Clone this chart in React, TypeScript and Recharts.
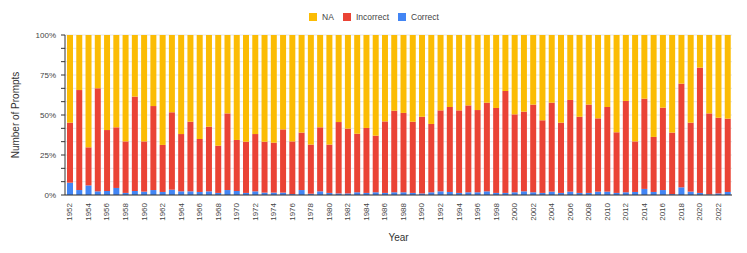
import { BarChart, Bar, XAxis, YAxis, CartesianGrid, Legend } from 'recharts'

const YEARS = [
  '1952', '1953', '1954', '1955', '1956', '1957', '1958', '1959', '1960', '1961',
  '1962', '1963', '1964', '1965', '1966', '1967', '1968', '1969', '1970', '1971',
  '1972', '1973', '1974', '1975', '1976', '1977', '1978', '1979', '1980', '1981',
  '1982', '1983', '1984', '1985', '1986', '1987', '1988', '1989', '1990', '1991',
  '1992', '1993', '1994', '1995', '1996', '1997', '1998', '1999', '2000', '2001',
  '2002', '2003', '2004', '2005', '2006', '2007', '2008', '2009', '2010', '2011',
  '2012', '2013', '2014', '2015', '2016', '2017', '2018', '2019', '2020', '2021',
  '2022', '2023',
]

// shares in percent
const CORRECT = [
  7.7, 3.1, 6.0, 2.3, 2.5, 4.4, 1.3, 2.5, 2.1, 3.1,
  1.9, 3.3, 2.3, 2.3, 1.9, 2.3, 1.3, 3.1, 2.5, 1.3,
  2.3, 1.5, 1.5, 1.5, 0.6, 3.1, 0.8, 2.3, 1.3, 1.0,
  1.0, 1.7, 1.3, 1.7, 1.3, 1.7, 1.7, 1.3, 1.0, 1.7,
  2.3, 1.9, 1.3, 1.7, 1.7, 2.3, 1.3, 1.3, 1.7, 2.3,
  1.7, 1.3, 2.1, 1.3, 2.1, 1.3, 1.3, 2.1, 2.1, 1.3,
  1.7, 1.9, 3.8, 1.9, 3.1, 0.6, 4.8, 2.1, 1.3, 0.4,
  1.0, 1.9,
]

const INCORRECT = [
  37.5, 62.5, 23.8, 64.4, 38.1, 37.9, 32.2, 59.0, 31.4, 52.5,
  29.4, 48.4, 35.8, 43.5, 33.1, 40.4, 29.5, 47.9, 31.9, 32.0,
  35.8, 31.8, 31.2, 39.5, 32.9, 35.9, 30.7, 40.0, 30.2, 44.6,
  40.5, 36.6, 40.6, 35.4, 44.7, 51.0, 49.6, 44.5, 47.9, 42.7,
  50.6, 53.1, 51.6, 54.3, 51.4, 55.4, 53.1, 63.7, 48.7, 49.8,
  54.8, 45.4, 55.6, 43.9, 57.3, 47.6, 55.2, 45.8, 52.9, 37.9,
  57.1, 31.6, 56.4, 34.4, 51.5, 38.4, 64.8, 43.1, 78.3, 50.6,
  47.3, 45.8,
]

const NA = [
  54.8, 34.4, 70.2, 33.3, 59.4, 57.7, 66.5, 38.5, 66.5, 44.4,
  68.7, 48.3, 61.9, 54.2, 65.0, 57.3, 69.2, 49.0, 65.6, 66.7,
  61.9, 66.7, 67.3, 59.0, 66.5, 61.0, 68.5, 57.7, 68.5, 54.4,
  58.5, 61.7, 58.1, 62.9, 54.0, 47.3, 48.7, 54.2, 51.1, 55.6,
  47.1, 45.0, 47.1, 44.0, 46.9, 42.3, 45.6, 35.0, 49.6, 47.9,
  43.5, 53.3, 42.3, 54.8, 40.6, 51.1, 43.5, 52.1, 45.0, 60.8,
  41.2, 66.5, 39.8, 63.7, 45.4, 61.0, 30.4, 54.8, 20.4, 49.0,
  51.7, 52.3,
]

const Y_TICKS = [0, 8.333, 16.667, 25, 33.333, 41.667, 50, 58.333, 66.667, 75, 83.333, 91.667, 100]
const Y_LABELS = [0, 25, 50, 75, 100]

const COLORS = { NA: '#FBBC04', Incorrect: '#EA4335', Correct: '#4285F4' }
const LEGEND_ORDER: (keyof typeof COLORS)[] = ['NA', 'Incorrect', 'Correct']

const FONT = '"Liberation Sans", Arial, sans-serif'

const data = YEARS.map((year, i) => ({
  year,
  Correct: CORRECT[i],
  Incorrect: INCORRECT[i],
  NA: NA[i],
}))

function LegendContent() {
  return (
    <div style={{ height: 27, display: 'flex', justifyContent: 'center', alignItems: 'flex-start', paddingTop: 3, paddingLeft: 6, boxSizing: 'border-box', fontFamily: FONT }}>
      {LEGEND_ORDER.map((k, i) => (
        <div key={k} style={{ display: 'flex', alignItems: 'center', height: 12, marginRight: i < LEGEND_ORDER.length - 1 ? 9 : 0 }}>
          <span style={{ width: 8, height: 8, background: COLORS[k], display: 'inline-block', marginRight: 5 }} />
          <span style={{ fontSize: 8.5, color: '#444' }}>{k}</span>
        </div>
      ))}
    </div>
  )
}

function YearTick({ x, y, payload }: any) {
  return (
    <text x={x} y={y} transform={`rotate(-90, ${x}, ${y})`} textAnchor="end" dy="0.35em" fontSize={8} fill="#444" fontFamily={FONT}>
      {payload.value}
    </text>
  )
}

export default function App() {
  return (
    <div style={{ position: 'absolute', left: 0, top: 0, background: '#fff' }}>
      <BarChart
        width={747}
        height={253}
        data={data}
        margin={{ top: 8, right: 15, bottom: 8, left: 10 }}
        barSize={6}
      >
        <CartesianGrid horizontal vertical={false} stroke="#e6e6e6" />
        <Legend verticalAlign="top" content={<LegendContent />} />
        <XAxis
          dataKey="year"
          interval={1}
          height={50}
          tickLine={false}
          axisLine={{ stroke: '#333' }}
          tick={<YearTick />}
          tickMargin={2}
          label={{ value: 'Year', position: 'insideBottom', offset: 4, fontSize: 10, fill: '#333', fontFamily: FONT }}
        />
        <YAxis
          width={55}
          domain={[0, 100]}
          ticks={Y_TICKS}
          interval={0}
          tickSize={4}
          tickMargin={5}
          tickLine={{ stroke: '#333' }}
          axisLine={{ stroke: '#333' }}
          tick={{ fontSize: 8, fill: '#444', fontFamily: FONT }}
          tickFormatter={(v: number) => (Y_LABELS.includes(v) ? `${v}%` : '')}
          label={{ value: 'Number of Prompts', angle: -90, position: 'insideLeft', offset: 5, fontSize: 10, fill: '#333', fontFamily: FONT, style: { textAnchor: 'middle' } }}
        />
        <Bar dataKey="Correct" stackId="a" fill={COLORS.Correct} isAnimationActive={false} />
        <Bar dataKey="Incorrect" stackId="a" fill={COLORS.Incorrect} isAnimationActive={false} />
        <Bar dataKey="NA" stackId="a" fill={COLORS.NA} isAnimationActive={false} />
      </BarChart>
    </div>
  )
}
